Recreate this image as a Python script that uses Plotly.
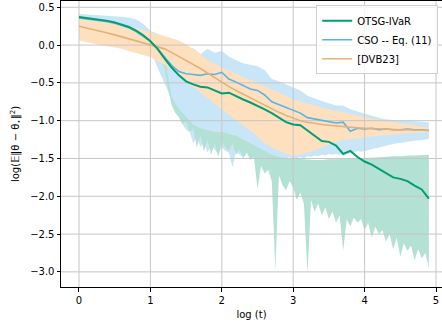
import plotly.graph_objects as go

# ---------------- data ----------------
x_c = [round(i * 0.1, 2) for i in range(50)]          # coarse grid 0.0 .. 4.9
x_f = [round(i * 0.05, 2) for i in range(99)]         # fine grid 0.00 .. 4.90

otsg_mean = [0.37, 0.36, 0.35, 0.335, 0.32, 0.30, 0.275, 0.24, 0.19, 0.13,
             0.05, -0.05, -0.18, -0.30, -0.40, -0.48, -0.52, -0.55, -0.56, -0.60,
             -0.64, -0.63, -0.68, -0.72, -0.76, -0.80, -0.85, -0.90, -0.96, -1.02,
             -1.05, -1.06, -1.13, -1.20, -1.27, -1.28, -1.33, -1.44, -1.40, -1.48,
             -1.54, -1.58, -1.64, -1.70, -1.75, -1.77, -1.80, -1.86, -1.91, -2.03]
otsg_upper = [0.385, 0.375, 0.365, 0.35, 0.335, 0.315, 0.29, 0.255, 0.205, 0.145,
              0.07, -0.03, -0.16, -0.70, -0.85, -0.95, -1.05, -1.10, -1.12, -1.15,
              -1.15, -1.18, -1.20, -1.25, -1.30, -1.35, -1.40, -1.45, -1.48, -1.50,
              -1.50, -1.51, -1.52, -1.52, -1.52, -1.51, -1.51, -1.50, -1.50, -1.50,
              -1.49, -1.49, -1.48, -1.48, -1.47, -1.47, -1.46, -1.46, -1.45, -1.45]
otsg_lower = [0.355, 0.35, 0.345, 0.34, 0.335, 0.33, 0.32, 0.31, 0.30, 0.29,
              0.28, 0.27, 0.255, 0.24, 0.22, 0.20, 0.175, 0.14, 0.11, 0.07,
              0.02, -0.05, -0.12, -0.20, -0.30, -0.60, -0.80, -0.90, -0.95, -1.05,
              -1.00, -1.15, -1.10, -1.35, -1.20, -1.40, -1.25, -1.45, -1.30, -1.48,
              -1.28, -1.35, -1.40, -1.30, -1.45, -1.38, -1.50, -1.42, -1.52, -1.48,
              -1.90, -1.60, -1.70, -1.65, -1.80, -2.98, -1.72, -1.85, -1.92, -1.80,
              -1.88, -2.05, -1.95, -2.10, -3.02, -2.05, -2.20, -2.10, -2.25, -2.15,
              -2.30, -2.20, -2.35, -2.25, -2.72, -2.30, -2.40, -2.28, -2.35, -2.30,
              -2.45, -2.35, -2.55, -2.40, -2.50, -2.45, -2.60, -2.50, -2.70, -2.55,
              -2.80, -2.62, -2.72, -2.65, -2.85, -2.70, -2.82, -2.75, -2.95]

cso_mean = [0.36, 0.35, 0.34, 0.325, 0.31, 0.29, 0.265, 0.23, 0.18, 0.12,
            0.05, -0.05, -0.16, -0.27, -0.35, -0.38, -0.39, -0.40, -0.38, -0.39,
            -0.36, -0.45, -0.49, -0.53, -0.58, -0.60, -0.66, -0.75, -0.79, -0.82,
            -0.86, -0.90, -0.96, -0.98, -1.00, -1.01, -1.03, -1.02, -1.14, -1.10,
            -1.11, -1.10, -1.12, -1.11, -1.12, -1.12, -1.11, -1.12, -1.12, -1.13]
cso_upper = [0.41, 0.405, 0.40, 0.395, 0.39, 0.385, 0.375, 0.36, 0.34, 0.28,
             0.19, 0.15, 0.09, 0.02, -0.02, -0.06, -0.04, -0.12, -0.05, -0.10,
             -0.08, -0.15, -0.20, -0.24, -0.26, -0.28, -0.33, -0.45, -0.48, -0.52,
             -0.55, -0.60, -0.67, -0.71, -0.74, -0.77, -0.80, -0.80, -0.85, -0.88,
             -0.91, -0.94, -0.96, -0.98, -0.99, -1.00, -1.00, -1.01, -1.02, -1.02]
cso_lower = [0.33, 0.33, 0.325, 0.32, 0.315, 0.31, 0.30, 0.295, 0.29, 0.285,
             0.28, 0.265, 0.25, 0.23, 0.21, 0.19, 0.165, 0.14, 0.10, 0.04,
             -0.05, -0.18, -0.30, -0.42, -0.52, -0.62, -0.72, -0.85, -0.96, -1.05,
             -1.12, -1.15, -1.30, -1.22, -1.35, -1.28, -1.42, -1.33, -1.38, -1.45,
             -1.35, -1.40, -1.42, -1.62, -1.40, -1.45, -1.48, -1.42, -1.50, -1.45,
             -1.47, -1.46, -1.50, -1.48, -1.45, -1.50, -1.48, -1.52, -1.50, -1.48,
             -1.52, -1.50, -1.48, -1.50, -1.47, -1.48, -1.46, -1.47, -1.45, -1.46,
             -1.44, -1.45, -1.44, -1.45, -1.43, -1.44, -1.42, -1.42, -1.40, -1.41,
             -1.39, -1.38, -1.37, -1.36, -1.35, -1.34, -1.33, -1.32, -1.31, -1.30,
             -1.30, -1.29, -1.28, -1.28, -1.27, -1.26, -1.26, -1.25, -1.24]

dvb_mean = [0.25, 0.23, 0.205, 0.18, 0.16, 0.135, 0.11, 0.085, 0.06, 0.035,
            0.01, -0.02, -0.05, -0.10, -0.15, -0.20, -0.26, -0.31, -0.37, -0.43,
            -0.50, -0.55, -0.60, -0.65, -0.70, -0.75, -0.80, -0.85, -0.89, -0.93,
            -0.97, -1.00, -1.02, -1.04, -1.05, -1.06, -1.07, -1.08, -1.09, -1.095,
            -1.10, -1.105, -1.11, -1.115, -1.12, -1.12, -1.12, -1.125, -1.13, -1.13]
dvb_upper = [0.38, 0.365, 0.35, 0.335, 0.32, 0.30, 0.28, 0.255, 0.23, 0.20,
             0.17, 0.145, 0.12, 0.09, 0.06, 0.01, -0.05, -0.12, -0.20, -0.25,
             -0.30, -0.34, -0.38, -0.42, -0.46, -0.50, -0.55, -0.58, -0.62, -0.67,
             -0.72, -0.75, -0.78, -0.80, -0.83, -0.85, -0.87, -0.90, -0.92, -0.94,
             -0.96, -0.975, -0.99, -1.005, -1.02, -1.035, -1.05, -1.065, -1.08, -1.09]
dvb_lower = [0.06, 0.04, 0.02, 0.00, -0.015, -0.03, -0.05, -0.08, -0.11, -0.13,
             -0.16, -0.21, -0.26, -0.33, -0.40, -0.48, -0.56, -0.63, -0.70, -0.78,
             -0.85, -0.93, -1.00, -1.07, -1.13, -1.22, -1.30, -1.35, -1.40, -1.44,
             -1.47, -1.45, -1.42, -1.39, -1.36, -1.32, -1.28, -1.26, -1.25, -1.235,
             -1.22, -1.21, -1.20, -1.19, -1.18, -1.175, -1.17, -1.16, -1.15, -1.15]

series_names = ["OTSG-IVaR", "CSO -- Eq. (11)", "[DVB23]"]
x_ticks = [0, 1, 2, 3, 4, 5]
y_ticks = [0.5, 0.0, -0.5, -1.0, -1.5, -2.0, -2.5, -3.0]
x_range = [-0.252, 5.084]
y_range = [-3.20, 0.583]

# ---------------- figure ----------------
GREEN = "#009E73"
BLUE = "#56B4E9"
ORANGE_LINE = "#E6B07C"
GRID = "#c6c6c6"
fig = go.Figure()


def band(xu, up, xl, lo, color):
    fig.add_trace(go.Scatter(
        x=list(xu) + list(xl)[::-1], y=list(up) + list(lo)[::-1],
        fill="toself", fillcolor=color, line=dict(width=0),
        mode="lines", hoverinfo="skip", showlegend=False))


# shaded bands (blue, then green, then orange on top)
band(x_c, cso_upper, x_f, cso_lower, "rgb(200,230,248)")
band(x_c, otsg_upper, x_f, otsg_lower, "rgb(179,225,211)")
band(x_c, dvb_upper, x_c, dvb_lower, "rgb(254,224,191)")

# grid drawn above the shaded bands but below the lines (as in matplotlib)
gx, gy = [], []
for v in x_ticks:
    gx += [v, v, None]
    gy += [y_range[0], y_range[1], None]
for v in y_ticks:
    gx += [x_range[0], x_range[1], None]
    gy += [v, v, None]
fig.add_trace(go.Scatter(x=gx, y=gy, mode="lines", line=dict(color=GRID, width=1),
                         hoverinfo="skip", showlegend=False, cliponaxis=True))

fig.add_trace(go.Scatter(x=x_c, y=cso_mean, mode="lines", name=series_names[1],
                         line=dict(color=BLUE, width=1.6), legendrank=2))
fig.add_trace(go.Scatter(x=x_c, y=dvb_mean, mode="lines", name=series_names[2],
                         line=dict(color=ORANGE_LINE, width=1.6), legendrank=3))
fig.add_trace(go.Scatter(x=x_c, y=otsg_mean, mode="lines", name=series_names[0],
                         line=dict(color=GREEN, width=2), legendrank=1))

font = dict(family="DejaVu Sans", size=10, color="black")
fig.update_layout(
    width=442, height=330,
    margin=dict(l=61, r=0, t=1, b=43),
    plot_bgcolor="white", paper_bgcolor="white",
    font=font,
    showlegend=True,
    legend=dict(x=0.99, y=0.985, xanchor="right", yanchor="top",
                bgcolor="rgba(255,255,255,0.8)", bordercolor="#d0d0d0",
                borderwidth=1, font=dict(family="DejaVu Sans", size=10),
                itemwidth=30, tracegroupgap=0),
)
fig.update_xaxes(
    range=x_range, tickvals=x_ticks, ticktext=[str(v) for v in x_ticks],
    showgrid=False,
    showline=True, linecolor="black", linewidth=1, mirror=True,
    ticks="outside", ticklen=3.5, tickcolor="black", zeroline=False,
    title=dict(text="log (t)", font=font, standoff=6),
)
fig.update_yaxes(
    range=y_range, tickvals=y_ticks, tickformat=".1f",
    showgrid=False,
    showline=True, linecolor="black", linewidth=1, mirror=False,
    ticks="outside", ticklen=3.5, tickcolor="black", zeroline=False,
    title=dict(text="log(𝔼‖θ − θ<sub>⋆</sub>‖<sup>2</sup>)", font=font, standoff=8),
)

fig.write_html("out.html")
